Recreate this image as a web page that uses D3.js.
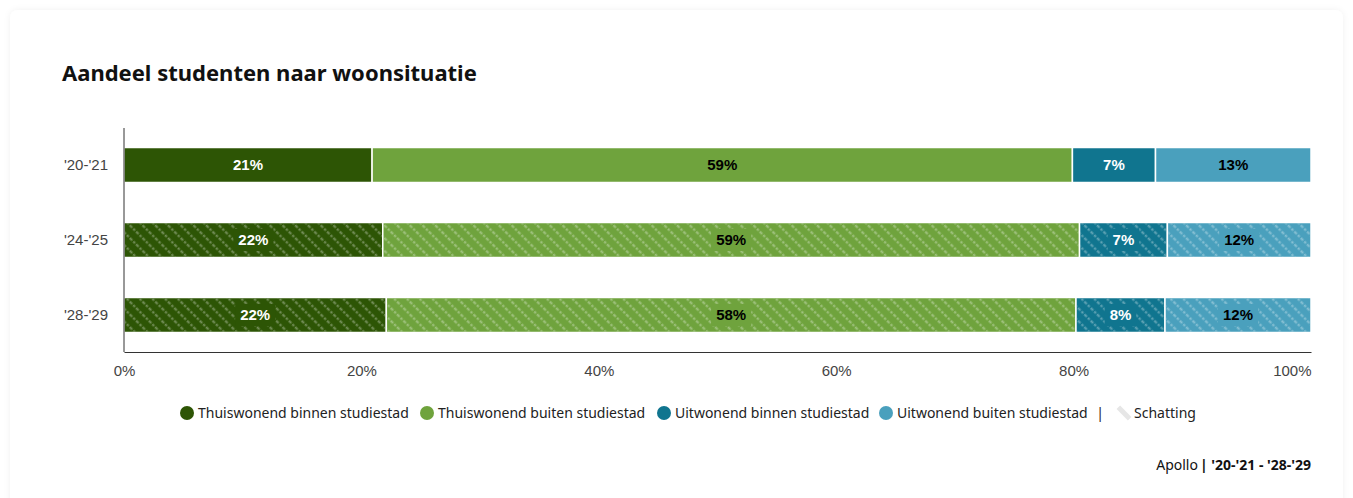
<!DOCTYPE html>
<html><head><meta charset="utf-8">
<script src="https://cdn.jsdelivr.net/npm/d3@7"></script>
<style>
body{margin:0;background:#fff;}
svg{display:block;}
</style></head>
<body>
<svg id="chart" width="1353" height="498"></svg>
<script>
const title = "Aandeel studenten naar woonsituatie";
const years = ["'20-'21", "'24-'25", "'28-'29"];
const estimate = [false, true, true];
const seriesNames = ["Thuiswonend binnen studiestad","Thuiswonend buiten studiestad","Uitwonend binnen studiestad","Uitwonend buiten studiestad"];
const thuisBinnen = [20.9, 21.8, 22.1];
const thuisBuiten = [59.0, 58.7, 58.1];
const uitBinnen = [7.0, 7.4, 7.5];
const uitBuiten = [13.1, 12.1, 12.3];
const labels = [["21%","59%","7%","13%"],["22%","59%","7%","12%"],["22%","58%","8%","12%"]];
const colors = ["#2d5505","#6fa33d","#10758f","#4aa0bd"];
const textColors = ["#fff","#000","#fff","#000"];
const xTicks = [0,20,40,60,80,100];
const source = "Apollo";
const sourceRange = "| '20-'21 - '28-'29";

const svg = d3.select("#chart");
const defs = svg.append("defs");
const sh = defs.append("filter").attr("id","shadow").attr("x","-5%").attr("y","-5%").attr("width","110%").attr("height","110%");
sh.append("feDropShadow").attr("dx",0).attr("dy",0).attr("stdDeviation",3).attr("flood-color","#000").attr("flood-opacity",0.06);
svg.append("rect").attr("x",10).attr("y",10).attr("width",1333).attr("height",500).attr("rx",8)
  .attr("fill","#fff").attr("filter","url(#shadow)");

const pat = defs.append("pattern").attr("id","hatch").attr("patternUnits","userSpaceOnUse")
  .attr("width",9).attr("height",9).attr("patternTransform","rotate(45)");
pat.append("line").attr("x1",0).attr("y1",4.5).attr("x2",9).attr("y2",4.5)
  .attr("stroke","#fff").attr("stroke-opacity",0.35).attr("stroke-width",2.2).attr("stroke-dasharray","2.5,1.5");

svg.append("text").attr("x",62).attr("y",81).text(title)
  .attr("font-family","'Noto Sans', sans-serif").attr("font-weight",700).attr("font-size",22).attr("fill","#111");

const x = d3.scaleLinear().domain([0,100]).range([124,1311]);
const y = d3.scaleBand().domain(years).range([128,352]).paddingInner(40/75).paddingOuter(0.26);

const data = years.map((yr,i)=>{
  const vals=[thuisBinnen[i],thuisBuiten[i],uitBinnen[i],uitBuiten[i]];
  let c=0;
  return vals.map((v,k)=>{const s={yr,i,k,x0:c,x1:c+v,label:labels[i][k]}; c+=v; return s;});
}).flat();

const g = svg.append("g");
const segs = g.selectAll("g.seg").data(data).join("g").attr("class","seg");
segs.append("rect").attr("x",d=>x(d.x0)).attr("y",d=>y(d.yr)).attr("width",d=>x(d.x1)-x(d.x0))
  .attr("height",y.bandwidth()).attr("fill",d=>colors[d.k]).attr("stroke","#fff").attr("stroke-width",1.5);
segs.filter(d=>estimate[d.i]).append("rect").attr("x",d=>x(d.x0)+1).attr("y",d=>y(d.yr)+1).attr("width",d=>x(d.x1)-x(d.x0)-2)
  .attr("height",y.bandwidth()-2).attr("fill","url(#hatch)");
segs.each(function(d){
  const gg=d3.select(this);
  const cx=(x(d.x0)+x(d.x1))/2, cy=y(d.yr)+y.bandwidth()/2;
  const t=gg.append("text").attr("x",cx).attr("y",cy).attr("dy","0.36em").attr("text-anchor","middle")
    .attr("font-family","'Liberation Sans', Arial, sans-serif").attr("font-weight",700).attr("font-size",15)
    .attr("fill",textColors[d.k]).text(d.label);
  if(estimate[d.i]){
    const bb=t.node().getBBox();
    gg.insert("rect","text").attr("x",bb.x-5).attr("y",cy-11).attr("width",bb.width+10).attr("height",22).attr("fill",colors[d.k]);
  }
});

// axes
const ax = svg.append("g").attr("transform","translate(0,352)")
  .call(d3.axisBottom(x).tickValues(xTicks).tickFormat(d=>d+"%").tickSize(0).tickPadding(13));
ax.select(".domain").attr("stroke","#333");
ax.selectAll("text").attr("font-family","'Liberation Sans', Arial, sans-serif").attr("font-size",15).attr("fill","#444");
ax.selectAll(".tick").filter(d=>d===100).select("text").attr("text-anchor","end");
const ay = svg.append("g").attr("transform","translate(124,0)")
  .call(d3.axisLeft(y).tickSize(0).tickPadding(16));
ay.select(".domain").attr("stroke","#333").attr("d","M0,128V352");
ay.selectAll("text").attr("font-family","'Liberation Sans', Arial, sans-serif").attr("font-size",15).attr("fill","#444");

// legend
const lg = svg.append("g").attr("font-family","'Noto Sans', sans-serif").attr("font-size",14).attr("fill","#222");
const legX = [187,427,664,886];
seriesNames.forEach((n,k)=>{
  lg.append("circle").attr("cx",legX[k]).attr("cy",413).attr("r",7).attr("fill",colors[k]);
  lg.append("text").attr("x",legX[k]+11).attr("y",413).attr("dy","0.35em").text(n);
});
lg.append("text").attr("x",1100).attr("y",413).attr("dy","0.35em").attr("text-anchor","middle").text("|");
const ig = lg.append("g").attr("transform","translate(1124,413) rotate(-45)");
ig.append("rect").attr("x",-2.5).attr("y",-8).attr("width",5).attr("height",16).attr("fill","#e6e6e6");
lg.append("text").attr("x",1134).attr("y",413).attr("dy","0.35em").text("Schatting");

// footer
const ft = svg.append("text").attr("x",1311).attr("y",465).attr("dy","0.35em").attr("text-anchor","end")
  .attr("font-family","'Noto Sans', sans-serif").attr("font-size",14).attr("fill","#111");
ft.append("tspan").text(source);
ft.append("tspan").attr("dx",2).attr("font-weight",700).text(sourceRange);
</script>
</body></html>
